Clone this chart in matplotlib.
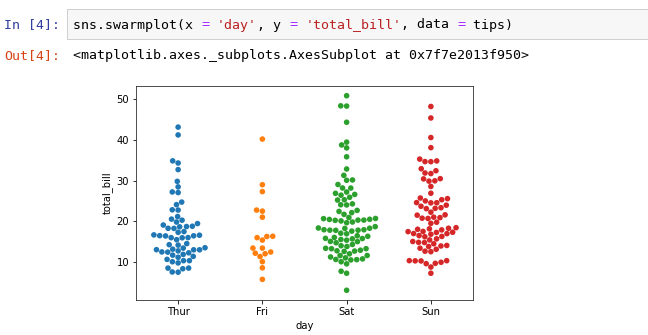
import matplotlib
matplotlib.use("Agg")
import matplotlib.pyplot as plt
import pandas as pd
import seaborn as sns

# ---- data (tips dataset total_bill values by day) ----
days = ["Thur", "Fri", "Sat", "Sun"]
thur = [27.20, 22.76, 17.29, 19.44, 16.66, 10.07, 32.68, 15.98, 34.83, 13.03, 18.28, 24.71, 21.16,
        10.65, 12.43, 24.08, 11.69, 13.42, 14.26, 15.95, 12.48, 29.80, 8.52, 14.52, 11.38, 22.82,
        19.08, 20.27, 11.17, 12.26, 18.26, 8.51, 10.33, 14.15, 16.00, 13.16, 17.47, 34.30, 41.19,
        27.05, 16.43, 8.35, 18.64, 11.87, 9.78, 7.51, 19.81, 28.44, 15.48, 16.58, 7.56, 10.34,
        43.11, 13.00, 13.51, 18.71, 12.74, 13.00, 16.40, 20.53, 16.47, 18.78]
fri = [28.97, 22.49, 5.75, 16.32, 22.75, 40.17, 27.28, 12.03, 21.01, 12.46, 11.35, 15.38,
       12.16, 13.42, 8.58, 15.98, 13.42, 16.27, 10.09]
sat = [20.65, 17.92, 20.29, 15.77, 39.42, 19.82, 17.81, 13.37, 12.69, 21.70, 19.65, 9.55, 18.35,
       15.06, 20.69, 17.78, 24.06, 16.31, 16.93, 18.69, 31.27, 16.04, 38.01, 26.41, 11.24, 48.27,
       20.29, 13.81, 11.02, 18.29, 17.59, 20.08, 16.45, 3.07, 20.23, 15.01, 12.02, 17.07, 26.86,
       25.28, 14.73, 10.51, 17.92, 44.30, 22.42, 20.92, 15.36, 20.49, 25.21, 18.24, 14.31, 14.00,
       7.25, 10.59, 10.63, 50.81, 15.81, 26.59, 38.73, 24.27, 12.76, 30.06, 25.89, 48.33, 13.27,
       28.17, 12.90, 28.15, 11.59, 7.74, 30.14, 20.45, 13.28, 22.12, 24.01, 15.69, 11.61, 10.77,
       15.53, 10.07, 12.60, 32.83, 35.83, 29.03, 27.18, 22.67, 17.82]
sun = [16.99, 10.34, 21.01, 23.68, 24.59, 25.29, 8.77, 26.88, 15.04, 14.78, 10.27, 35.26, 15.42,
       18.43, 14.83, 21.58, 10.33, 16.29, 16.97, 17.46, 13.94, 9.68, 30.40, 18.29, 22.23, 32.40,
       28.55, 18.04, 12.54, 10.29, 34.81, 9.94, 25.56, 19.49, 38.07, 23.95, 25.71, 17.31, 29.93,
       14.07, 13.13, 17.26, 24.55, 19.77, 29.85, 48.17, 25.00, 13.39, 16.49, 21.50, 12.66, 16.21,
       13.81, 17.51, 24.52, 20.76, 31.71, 7.25, 31.85, 16.82, 32.90, 17.89, 14.48, 9.60, 34.63,
       34.65, 23.33, 45.35, 23.17, 40.55, 20.69, 20.90, 30.46, 18.15, 23.10, 15.69]
colors = ["#1f77b4", "#ff7f0e", "#2ca02c", "#d62728"]

prompt_in = "In [4]:"
prompt_out = "Out[4]:"
code_parts = [("sns.swarmplot(x ", "black"), ("=", "#AA22FF"), (" ", "black"), ("'day'", "#BA2121"),
              (", y ", "black"), ("=", "#AA22FF"), (" ", "black"), ("'total_bill'", "#BA2121"),
              (", data ", "black"), ("=", "#AA22FF"), (" tips)", "black")]
out_text = "<matplotlib.axes._subplots.AxesSubplot at 0x7f7e2013f950>"

df = pd.DataFrame({
    "day": ["Thur"] * len(thur) + ["Fri"] * len(fri) + ["Sat"] * len(sat) + ["Sun"] * len(sun),
    "total_bill": thur + fri + sat + sun,
})

W, H, DPI = 648, 335, 72
fig = plt.figure(figsize=(W / DPI, H / DPI), dpi=DPI)
fig.patch.set_facecolor("white")

def px(x, y):
    return x / W, 1 - y / H

# notebook chrome
box = plt.Rectangle(px(67, 39), (W - 67) / W, 30 / H, transform=fig.transFigure,
                    facecolor="#f7f7f7", edgecolor="#cfcfcf", lw=1.0)
fig.patches.append(box)
mono = "DejaVu Sans Mono"
fs = 13.3
cw = 0.602 * fs * DPI / 72
fig.text(*px(60, 28.5), prompt_in, ha="right", va="baseline", family=mono, fontsize=fs, color="#303F9F")
fig.text(*px(60, 59), prompt_out, ha="right", va="baseline", family=mono, fontsize=fs, color="#D84315")
i = 0
for s, c in code_parts:
    fig.text(*px(73 + i * cw, 28.5), s, ha="left", va="baseline", family=mono, fontsize=fs, color=c)
    i += len(s)
fig.text(*px(73, 59), out_text, ha="left", va="baseline", family=mono, fontsize=fs, color="black")

ax = fig.add_axes([136 / W, 35 / H, 337 / W, 214 / H])
sns.swarmplot(data=df, x="day", y="total_bill", hue="day", order=days, hue_order=days,
              palette=colors, legend=False, size=5.6, ax=ax)
ax.set_xlabel("day")
ax.set_ylabel("total_bill")
ax.set_yticks([10, 20, 30, 40, 50])
for s in ax.spines.values():
    s.set_visible(True)
    s.set_color("#262626")

fig.savefig("out.png", dpi=DPI)
